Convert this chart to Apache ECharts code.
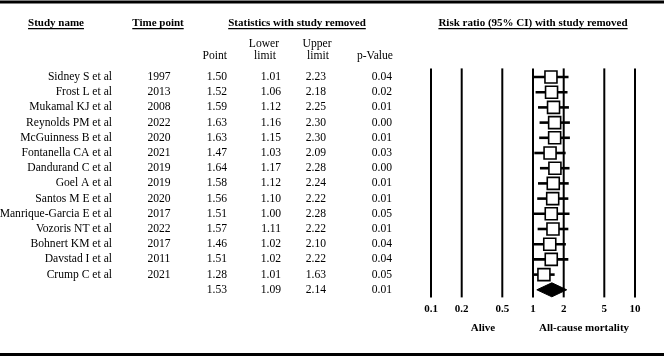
<!DOCTYPE html>
<html><head><meta charset="utf-8">
<script src="https://cdn.jsdelivr.net/npm/echarts@6/dist/echarts.min.js"></script>
<style>html,body{margin:0;padding:0;background:#fff}#c{width:666px;height:357px}</style>
</head><body><div id="c"></div>
<script>
// ---- data ----
const studies = ['Sidney S et al','Frost L et al','Mukamal KJ et al','Reynolds PM et al','McGuinness B et al','Fontanella CA et al','Dandurand C et al','Goel A et al','Santos M E et al','Manrique-Garcia E et al','Vozoris NT et al','Bohnert KM et al','Davstad I et al','Crump C et al'];
const years = ['1997','2013','2008','2022','2020','2021','2019','2019','2020','2017','2022','2017','2011','2021'];
const points = [1.50,1.52,1.59,1.63,1.63,1.47,1.64,1.58,1.56,1.51,1.57,1.46,1.51,1.28];
const lowers = [1.01,1.06,1.12,1.16,1.15,1.03,1.17,1.12,1.10,1.00,1.11,1.02,1.02,1.01];
const uppers = [2.23,2.18,2.25,2.30,2.30,2.09,2.28,2.24,2.22,2.28,2.22,2.10,2.22,1.63];
const pValues = [0.04,0.02,0.01,0.00,0.01,0.03,0.00,0.01,0.01,0.05,0.01,0.04,0.04,0.05];
const summaryPoint = [1.53];
const summaryLower = [1.09];
const summaryUpper = [2.14];
const summaryP = [0.01];
const xTicks = [0.1,0.2,0.5,1,2,5,10];
const xTickLabels = ['0.1','0.2','0.5','1','2','5','10'];

// ---- layout / style ----
const FF = '"Liberation Serif","Times New Roman",serif';
const F = '11.6px ' + FF;
const FB = 'bold 11px ' + FF;
const rowNames = studies.concat(['Summary']);
const SUM = studies.length;

const mctx = document.createElement('canvas').getContext('2d');
function tw(t, font){ mctx.font = font; return mctx.measureText(t).width; }

function txt(t, x, y, font, align){
  return {type:'text', silent:true, style:{text:t, x:x, y:y, font:font, fill:'#000',
    align:align||'center', verticalAlign:'middle', textAlign:align||'center', textVerticalAlign:'middle'}};
}
function header(t, cx, y){
  const w = tw(t, FB);
  return [txt(t, cx, y, FB, 'center'),
    {type:'rect', silent:true, shape:{x:cx - w/2, y:y+5, width:w, height:1.2}, style:{fill:'#000'}}];
}

const graphics = [
  {type:'rect', shape:{x:0, y:0.5, width:664, height:3}, style:{fill:'#000'}},
  {type:'rect', shape:{x:0, y:353, width:664, height:3}, style:{fill:'#000'}},
  ...header('Study name', 56, 23),
  ...header('Time point', 158, 23),
  ...header('Statistics with study removed', 297, 23),
  ...header('Risk ratio (95% CI) with study removed', 533, 23),
  txt('Point', 227, 56, F, 'right'),
  txt('Lower', 264, 44, F, 'center'), txt('limit', 265, 56, F, 'center'),
  txt('Upper', 317, 44, F, 'center'), txt('limit', 318, 56, F, 'center'),
  txt('p-Value', 393, 56, F, 'right'),
  txt('Alive', 483, 328, FB, 'center'),
  txt('All-cause mortality', 584, 328, FB, 'center')
];

const option = {
  backgroundColor:'#fff',
  animation:false,
  grid:{left:431, width:204, top:69.4, height:228},
  xAxis:{type:'log', logBase:10, min:0.1, max:10, show:false},
  yAxis:{type:'category', data:rowNames, inverse:true, show:false},
  graphic:graphics,
  series:[
    { // reference lines + tick labels
      type:'custom', name:'ticks', silent:true,
      data:xTicks.map((v,i)=>[v,0,i]),
      encode:{x:0, y:1},
      renderItem:function(params, api){
        const cs = params.coordSys;
        const x = api.coord([api.value(0), 0])[0];
        const i = api.value(2);
        return {type:'group', children:[
          {type:'line', shape:{x1:x, y1:cs.y-1, x2:x, y2:cs.y+cs.height}, style:{stroke:'#000', lineWidth:2}},
          txt(xTickLabels[i], x, 309, FB, 'center')
        ]};
      }
    },
    { // studies: CI + box
      type:'custom', name:'studies', silent:true,
      data:studies.map((s,i)=>[i, points[i], lowers[i], uppers[i]]),
      encode:{x:[1,2,3], y:0},
      renderItem:function(params, api){
        const i = api.value(0);
        const p = api.coord([api.value(1), i]);
        const l = api.coord([api.value(2), i]);
        const u = api.coord([api.value(3), i]);
        const s = 12;
        return {type:'group', children:[
          {type:'line', shape:{x1:l[0], y1:p[1], x2:u[0], y2:p[1]}, style:{stroke:'#000', lineWidth:2.6}},
          {type:'rect', shape:{x:p[0]-s/2, y:p[1]-s/2, width:s, height:s}, style:{fill:'#fff', stroke:'#000', lineWidth:1.6}}
        ]};
      }
    },
    { // summary diamond
      type:'custom', name:'summary', silent:true,
      data:summaryPoint.map((v,k)=>[SUM, v, summaryLower[k], summaryUpper[k]]),
      encode:{x:[1,2,3], y:0},
      renderItem:function(params, api){
        const r = api.value(0);
        const p = api.coord([api.value(1), r]);
        const l = api.coord([api.value(2), r]);
        const u = api.coord([api.value(3), r]);
        const h = 7;
        return {type:'polygon', shape:{points:[[l[0],p[1]],[p[0],p[1]-h],[u[0],p[1]],[p[0],p[1]+h]]}, style:{fill:'#000', stroke:'#000', lineWidth:1}};
      }
    },
    { // table text
      type:'custom', name:'table', silent:true,
      data:rowNames.map((n,i)=>[1,i]),
      encode:{x:0, y:1},
      renderItem:function(params, api){
        const i = api.value(1);
        const y = api.coord([1, i])[1];
        const ch = [];
        if (i < SUM) {
          ch.push(txt(studies[i], 112, y, F, 'right'));
          ch.push(txt(years[i], 159, y, F, 'center'));
          ch.push(txt(points[i].toFixed(2), 227, y, F, 'right'));
          ch.push(txt(lowers[i].toFixed(2), 281, y, F, 'right'));
          ch.push(txt(uppers[i].toFixed(2), 326, y, F, 'right'));
          ch.push(txt(pValues[i].toFixed(2), 392, y, F, 'right'));
        } else {
          const k = i - SUM;
          ch.push(txt(summaryPoint[k].toFixed(2), 227, y, F, 'right'));
          ch.push(txt(summaryLower[k].toFixed(2), 281, y, F, 'right'));
          ch.push(txt(summaryUpper[k].toFixed(2), 326, y, F, 'right'));
          ch.push(txt(summaryP[k].toFixed(2), 392, y, F, 'right'));
        }
        return {type:'group', children:ch};
      }
    }
  ]
};
const chart = echarts.init(document.getElementById('c'), null, {renderer:'canvas'});
chart.setOption(option);
</script></body></html>
